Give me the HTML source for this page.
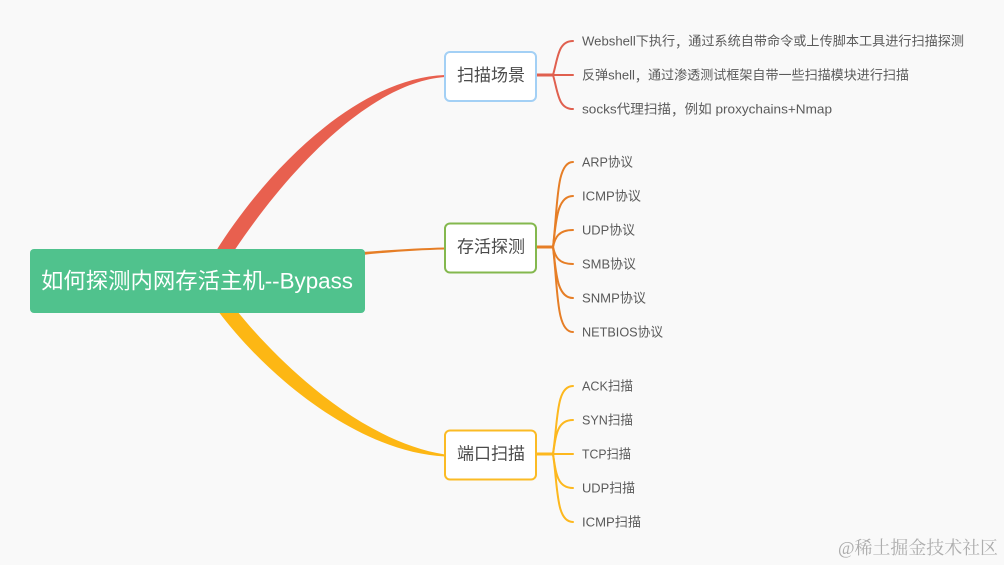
<!DOCTYPE html>
<html lang="zh">
<head>
<meta charset="utf-8">
<title>如何探测内网存活主机--Bypass</title>
<style>
html,body{margin:0;padding:0;background:#f9f9f9;width:1004px;height:565px;overflow:hidden}
svg{display:block}
text{font-family:"Liberation Sans","Noto Sans CJK SC",sans-serif;dominant-baseline:central}
.l{font-size:13px;fill:#5a5a5a}
.b{font-size:17px;fill:#4a4a4a}
.c{fill:none;stroke-width:2;stroke-linecap:round}
.s{fill:none;stroke-width:3}
.p{font-family:"Noto Sans CJK TC",sans-serif}
</style>
</head>
<body>
<svg width="1004" height="565" viewBox="0 0 1004 565" xmlns="http://www.w3.org/2000/svg">
<rect width="1004" height="565" fill="#f9f9f9"/>

<!-- main branches -->
<path d="M216 251 C270 165 360 78 445 75 L445 77 C375 82 295 160 234 251 Z" fill="#e8604f"/>
<path d="M362 252 C390 250 420 248 445 247.500 L445 249.500 C420 250 390 252 362 255 Z" fill="#e67e26"/>
<path d="M218 311 C270 380 360 452 445 456.500 L445 454.500 C365 442 285 370 237 311 Z" fill="#fdb714"/>

<!-- root -->
<rect x="30" y="249" width="335" height="64" rx="4" fill="#50c28d"/>
<text x="41" y="281" font-size="22" fill="#fff" textLength="312" lengthAdjust="spacingAndGlyphs">如何探测内网存活主机--Bypass</text>

<!-- boxes -->
<rect x="445" y="52" width="91" height="49" rx="5" fill="#fff" stroke="#a3d0f5" stroke-width="2"/>
<text x="457" y="75.500" class="b" textLength="68">扫描场景</text>
<rect x="445" y="223.500" width="91" height="49" rx="5" fill="#fff" stroke="#84b84e" stroke-width="2"/>
<text x="457" y="247" class="b" textLength="68">存活探测</text>
<rect x="445" y="430.500" width="91" height="49" rx="5" fill="#fff" stroke="#fbbb25" stroke-width="2"/>
<text x="457" y="454" class="b" textLength="68">端口扫描</text>

<!-- connectors 1 -->
<g stroke="#e0604f">
<path class="s" d="M537 75 H554"/>
<path class="c" d="M553 75 C558 58 558 41 573 41"/>
<path class="c" d="M553 75 H573"/>
<path class="c" d="M553 75 C558 92 558 109 573 109"/>
</g>
<!-- connectors 2 -->
<g stroke="#e67e26">
<path class="s" d="M537 247 H554"/>
<path class="c" d="M553 247 C558 205 556 162 573 162"/>
<path class="c" d="M553 247 C556 225 556 196 573 196"/>
<path class="c" d="M553 247 C555 238 558 230 573 230"/>
<path class="c" d="M553 247 C555 256 558 264 573 264"/>
<path class="c" d="M553 247 C556 269 556 298 573 298"/>
<path class="c" d="M553 247 C558 289 556 332 573 332"/>
</g>
<!-- connectors 3 -->
<g stroke="#fdb81e">
<path class="s" d="M537 454 H554"/>
<path class="c" d="M553 454 C558 420 556 386 573 386"/>
<path class="c" d="M553 454 C556 435 557 420 573 420"/>
<path class="c" d="M553 454 H573"/>
<path class="c" d="M553 454 C556 473 557 488 573 488"/>
<path class="c" d="M553 454 C558 488 556 522 573 522"/>
</g>

<!-- leaves -->
<text x="582" y="41" class="l" textLength="382" lengthAdjust="spacingAndGlyphs">Webshell下执行<tspan class="p">，</tspan>通过系统自带命令或上传脚本工具进行扫描探测</text>
<text x="582" y="75" class="l" textLength="327" lengthAdjust="spacingAndGlyphs">反弹shell<tspan class="p">，</tspan>通过渗透测试框架自带一些扫描模块进行扫描</text>
<text x="582" y="109" class="l" textLength="250" lengthAdjust="spacingAndGlyphs">socks代理扫描<tspan class="p">，</tspan>例如 proxychains+Nmap</text>

<text x="582" y="162" class="l" textLength="51" lengthAdjust="spacingAndGlyphs">ARP协议</text>
<text x="582" y="196" class="l" textLength="59" lengthAdjust="spacingAndGlyphs">ICMP协议</text>
<text x="582" y="230" class="l" textLength="53" lengthAdjust="spacingAndGlyphs">UDP协议</text>
<text x="582" y="264" class="l" textLength="54" lengthAdjust="spacingAndGlyphs">SMB协议</text>
<text x="582" y="298" class="l" textLength="64" lengthAdjust="spacingAndGlyphs">SNMP协议</text>
<text x="582" y="332" class="l" textLength="81" lengthAdjust="spacingAndGlyphs">NETBIOS协议</text>

<text x="582" y="386" class="l" textLength="51" lengthAdjust="spacingAndGlyphs">ACK扫描</text>
<text x="582" y="420" class="l" textLength="51" lengthAdjust="spacingAndGlyphs">SYN扫描</text>
<text x="582" y="454" class="l" textLength="49" lengthAdjust="spacingAndGlyphs">TCP扫描</text>
<text x="582" y="488" class="l" textLength="53" lengthAdjust="spacingAndGlyphs">UDP扫描</text>
<text x="582" y="522" class="l" textLength="59" lengthAdjust="spacingAndGlyphs">ICMP扫描</text>

<!-- watermark -->
<text x="838" y="548" font-size="18" fill="#adadad" style="font-family:'Liberation Serif','Noto Serif CJK SC',serif" textLength="160" lengthAdjust="spacingAndGlyphs">@稀土掘金技术社区</text>
</svg>
</body>
</html>
